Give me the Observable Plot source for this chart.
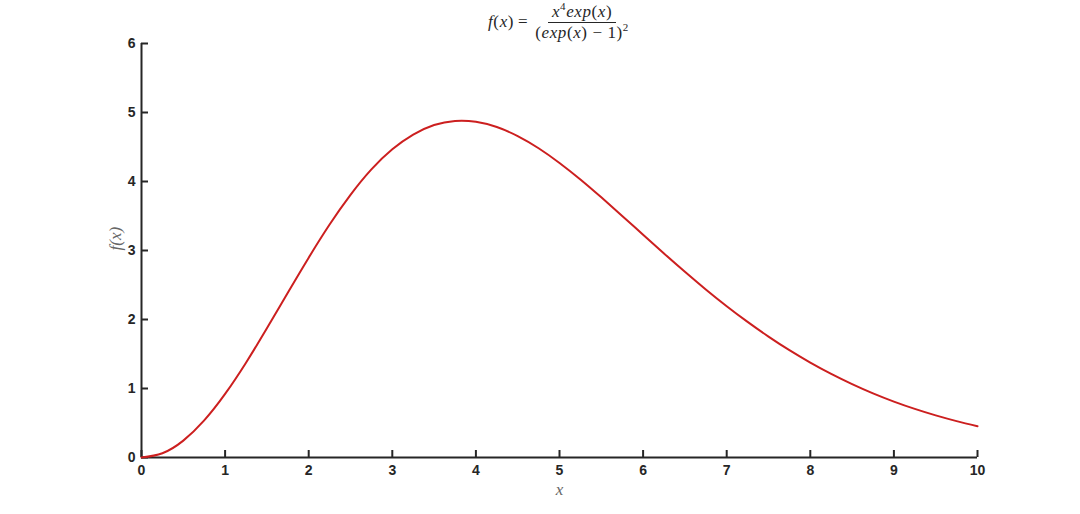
<!DOCTYPE html>
<html>
<head>
<meta charset="utf-8">
<script src="https://cdn.jsdelivr.net/npm/d3@7"></script>
<script src="https://cdn.jsdelivr.net/npm/@observablehq/plot@0.6"></script>
<style>
  html, body { margin: 0; padding: 0; background: #fff; }
  #wrap { position: relative; width: 1080px; height: 514px; }
  #title { position: absolute; top: 1px; left: 0; width: 1080px; display: flex; justify-content: center; align-items: center; height: 42px;
    font-family: "Liberation Serif", "DejaVu Serif", serif; font-style: italic; font-size: 17px; letter-spacing: 0.6px; color: #262626; padding-left: 38px; box-sizing: border-box; z-index: 2; }
  .frac { display: inline-flex; flex-direction: column; align-items: center; margin-left: 6px; line-height: 18px; }
  .num { border-bottom: 1px solid #262626; padding: 0 4px 1px 4px; }
  .den { padding: 1px 1px 0 1px; }
  .up { font-style: normal; }
  .eq { margin-left: 4px; }
  sup { font-size: 11px; line-height: 0; }
  svg { display: block; }
</style>
</head>
<body>
<div id="wrap">
  <div id="title"><span>f<span class="up">(</span>x<span class="up">)</span><span class="up eq">=</span></span><span class="frac"><span class="num">x<sup class="up">4</sup>exp<span class="up">(</span>x<span class="up">)</span></span><span class="den"><span class="up">(</span>exp<span class="up">(</span>x<span class="up">) &minus; 1)</span><sup class="up">2</sup></span></span></div>
  <div id="chart"></div>
</div>
<script>
const xValues = [0, 0.25, 0.5, 0.75, 1, 1.25, 1.5, 1.75, 2, 2.25, 2.5, 2.75, 3, 3.25, 3.5, 3.75, 4, 4.25, 4.5, 4.75, 5, 5.25, 5.5, 5.75, 6, 6.25, 6.5, 6.75, 7, 7.25, 7.5, 7.75, 8, 8.25, 8.5, 8.75, 9, 9.25, 9.5, 9.75, 10];
const yValues = [0, 0.062, 0.245, 0.537, 0.921, 1.374, 1.872, 2.388, 2.896, 3.376, 3.806, 4.175, 4.466, 4.679, 4.818, 4.877, 4.865, 4.789, 4.658, 4.482, 4.269, 4.029, 3.770, 3.501, 3.228, 2.957, 2.692, 2.436, 2.193, 1.965, 1.752, 1.555, 1.375, 1.211, 1.063, 0.929, 0.810, 0.704, 0.610, 0.527, 0.454];
const xTicks = [0, 1, 2, 3, 4, 5, 6, 7, 8, 9, 10];
const yTicks = [0, 1, 2, 3, 4, 5, 6];
const xLabel = "x";
const yLabel = "f(x)";

const data = xValues.map((x, i) => ({x, y: yValues[i]}));
const axisColor = "#262626";

const chart = Plot.plot({
  width: 1080,
  height: 514,
  marginLeft: 141,
  marginRight: 103,
  marginTop: 43,
  marginBottom: 57,
  x: {domain: [0, 10]},
  y: {domain: [0, 6]},
  style: {fontFamily: "'Liberation Sans', Arial, sans-serif", color: axisColor, background: "white"},
  marks: [
    Plot.axisX(xTicks, {tickSize: 0, tickPadding: 8, fontSize: 14, fontWeight: "bold", label: null, fill: axisColor, tickFormat: d => String(d)}),
    Plot.axisY(yTicks, {tickSize: 0, tickPadding: 6, fontSize: 14, fontWeight: "bold", label: null, fill: axisColor, tickFormat: d => String(d)}),
    Plot.tickX(xTicks, {x: d => d, insetTop: 407, stroke: axisColor, strokeWidth: 2}),
    Plot.tickY(yTicks, {y: d => d, insetRight: 829, stroke: axisColor, strokeWidth: 2}),
    Plot.ruleY([0], {stroke: axisColor, strokeWidth: 2}),
    Plot.ruleX([0], {stroke: axisColor, strokeWidth: 2}),
    Plot.line(data, {x: "x", y: "y", curve: "natural", stroke: "#cc1f1f", strokeWidth: 2}),
    Plot.text([xLabel], {frameAnchor: "bottom", dy: 37, text: d => d, fontFamily: "'Liberation Serif', serif", fontStyle: "italic", fontSize: 17, fill: "#666"}),
    Plot.text([yLabel], {frameAnchor: "left", dx: -26, rotate: -90, text: d => d, fontFamily: "'Liberation Serif', serif", fontStyle: "italic", fontSize: 17, fill: "#666"})
  ]
});
document.getElementById("chart").appendChild(chart);
</script>
</body>
</html>
